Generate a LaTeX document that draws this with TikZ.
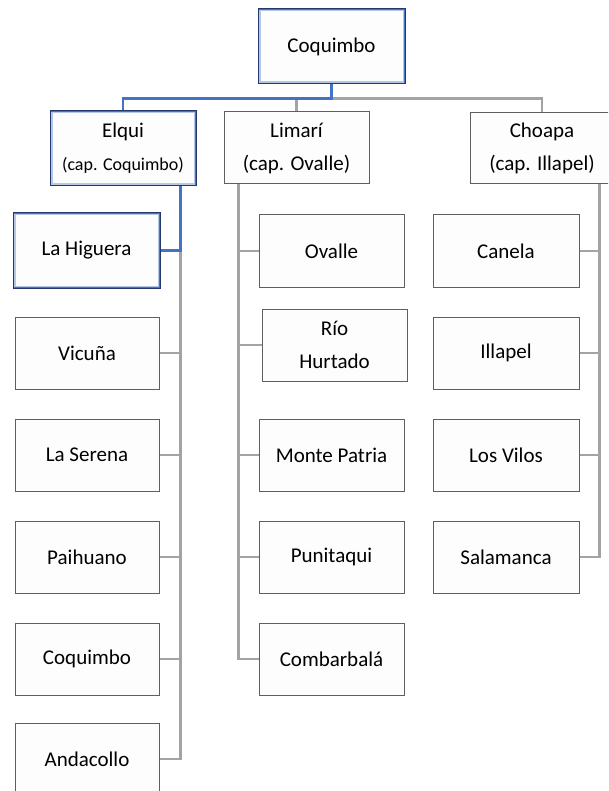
\documentclass[tikz,border=0pt]{standalone}
\usepackage{fontspec}
\setmainfont{Carlito}
\usetikzlibrary{calc,backgrounds}
\definecolor{boxborder}{HTML}{5F5F5F}
\definecolor{boxfill}{HTML}{FDFDFD}
\definecolor{conngray}{HTML}{A3A3A3}
\definecolor{connblue}{HTML}{4472C4}
\definecolor{navy}{HTML}{22386E}
\definecolor{paleblue}{HTML}{B4C7E7}
\tikzset{
  box/.style={draw=boxborder, fill=boxfill, line width=1pt, inner sep=0pt, align=center,
    font=\fontsize{21}{33}\selectfont},
  hlbox/.style={box, draw=navy,
    path picture={
      \draw[paleblue, line width=5pt] (path picture bounding box.south west) rectangle (path picture bounding box.north east);
      \draw[connblue, line width=2.6pt] (path picture bounding box.south west) rectangle (path picture bounding box.north east);
    }},
  gline/.style={draw=conngray, line width=2.6pt},
  bline/.style={draw=connblue, line width=2.6pt},
}
\begin{document}
\begin{tikzpicture}[x=1pt,y=-1pt]
\clip (0,0) rectangle (608,791);
% top level
\node[hlbox, minimum width=147pt, minimum height=75pt] (top) at (331.5,46.5) {Coquimbo};
% provinces
\node[hlbox, minimum width=146pt, minimum height=75pt] (elqui) at (123,148.5)
  {Elqui\\{\fontsize{18}{35}\selectfont (cap. Coquimbo)}};
\node[box, minimum width=145pt, minimum height=72pt] (limari) at (296.5,148)
  {Limarí\\(cap. Ovalle)};
\node[box, minimum width=144pt, minimum height=71pt] (choapa) at (542,148.5)
  {Choapa\\(cap. Illapel)};
% Elqui communes
\node[hlbox, minimum width=147pt, minimum height=75pt] (hig) at (86.5,250.5) {La Higuera};
\node[box, minimum width=144pt, minimum height=72pt] (vic) at (87,353) {Vicuña};
\node[box, minimum width=144pt, minimum height=72pt] (ser) at (87,455) {La Serena};
\node[box, minimum width=144pt, minimum height=72pt] (pai) at (87,557) {Paihuano};
\node[box, minimum width=144pt, minimum height=72pt] (coq) at (87,659) {Coquimbo};
\node[box, minimum width=144pt, minimum height=72pt] (and) at (87,759) {Andacollo};
% Limari communes
\node[box, minimum width=145pt, minimum height=72pt] (ova) at (331.5,251) {Ovalle};
\node[box, minimum width=145pt, minimum height=72pt] (rio) at (334.5,345) {Río\\Hurtado};
\node[box, minimum width=145pt, minimum height=72pt] (mon) at (331.5,455) {Monte Patria};
\node[box, minimum width=145pt, minimum height=72pt] (pun) at (331.5,557) {Punitaqui};
\node[box, minimum width=145pt, minimum height=72pt] (com) at (331.5,659) {Combarbalá};
% Choapa communes
\node[box, minimum width=146pt, minimum height=72pt] (can) at (506,251) {Canela};
\node[box, minimum width=146pt, minimum height=72pt] (ill) at (506,353) {Illapel};
\node[box, minimum width=146pt, minimum height=72pt] (vil) at (506,455) {Los Vilos};
\node[box, minimum width=146pt, minimum height=72pt] (sal) at (506,557) {Salamanca};

\begin{scope}[on background layer]
  \coordinate (bus) at ($(top.south)+(0,14)$);
  \coordinate (et) at ($(elqui.south east)+(-16,0)$);
  \coordinate (lt) at ($(limari.south west)+(15,0)$);
  \coordinate (ct) at ($(choapa.south west)+(130,0)$);
  % top level bus
  \draw[gline] (bus) -| (limari.north);
  \draw[gline] (bus) -| (choapa.north);
  \draw[bline] (top.south) -- (bus) -| (elqui.north);
  % Elqui trunk
  \draw[gline] (et) |- (and.east);
  \foreach \n in {vic,ser,pai,coq} \draw[gline] (\n.east) -- (\n.east -| et);
  \draw[bline] (et) |- (hig.east);
  % Limari trunk
  \draw[gline] (lt) |- (com.west);
  \foreach \n in {ova,rio,mon,pun} \draw[gline] (\n.west) -- (\n.west -| lt);
  % Choapa trunk
  \draw[gline] (ct) |- (sal.east);
  \foreach \n in {can,ill,vil} \draw[gline] (\n.east) -- (\n.east -| ct);
\end{scope}
\end{tikzpicture}
\end{document}
